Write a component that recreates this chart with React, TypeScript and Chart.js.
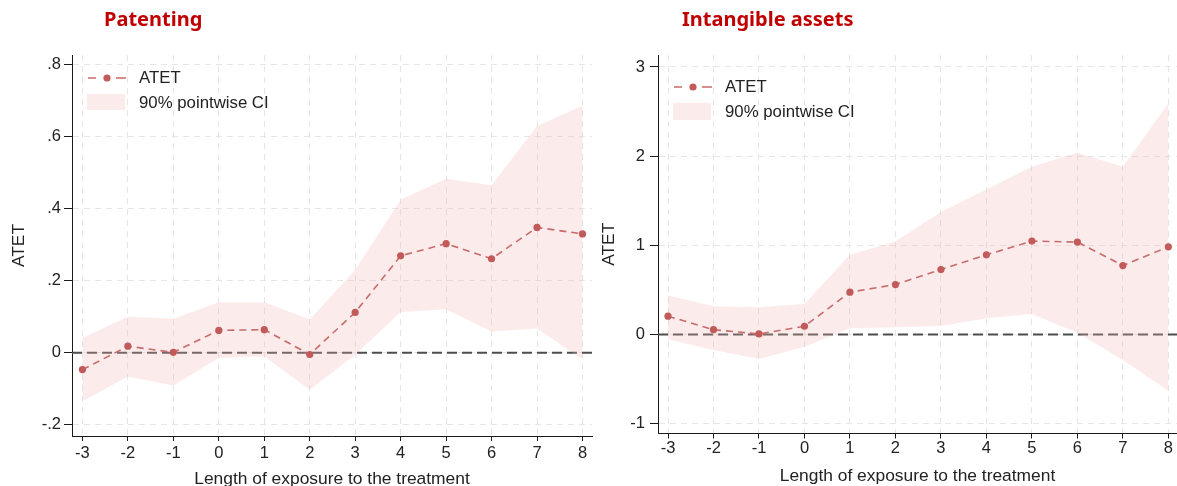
import React, { useEffect, useRef } from 'react';
import { Chart, registerables } from 'chart.js';

Chart.register(...registerables);

// ---------- data ----------
const exposure = [-3, -2, -1, 0, 1, 2, 3, 4, 5, 6, 7, 8];
const exposureLabels = ['-3', '-2', '-1', '0', '1', '2', '3', '4', '5', '6', '7', '8'];

const patentingATET = [-0.047, 0.018, 0.001, 0.062, 0.064, -0.005, 0.112, 0.269, 0.303, 0.261, 0.348, 0.330];
const patentingUpper = [0.041, 0.100, 0.094, 0.140, 0.140, 0.092, 0.230, 0.425, 0.483, 0.465, 0.630, 0.686];
const patentingLower = [-0.135, -0.066, -0.091, -0.015, -0.010, -0.103, -0.006, 0.113, 0.121, 0.059, 0.067, -0.019];
const patentingYTicks = [-0.2, 0, 0.2, 0.4, 0.6, 0.8];
const patentingYLabels = ['-.2', '0', '.2', '.4', '.6', '.8'];

const intangibleATET = [0.206, 0.055, 0.007, 0.093, 0.475, 0.561, 0.729, 0.894, 1.048, 1.037, 0.774, 0.984];
const intangibleUpper = [0.437, 0.317, 0.306, 0.344, 0.894, 1.044, 1.374, 1.625, 1.880, 2.037, 1.880, 2.590];
const intangibleLower = [-0.053, -0.173, -0.274, -0.136, 0.071, 0.082, 0.097, 0.183, 0.231, 0.021, -0.285, -0.630];
const intangibleYTicks = [-1, 0, 1, 2, 3];
const intangibleYLabels = ['-1', '0', '1', '2', '3'];

const panelTitles = ['Patenting', 'Intangible assets'];
const seriesLabel = 'ATET';
const bandLabel = '90% pointwise CI';
const xAxisTitle = 'Length of exposure to the treatment';
const yAxisTitle = 'ATET';

// ---------- styles ----------
const FONT = "'Liberation Sans', Arial, Helvetica, sans-serif";
const BAND = 'rgba(239, 179, 179, 0.26)';
const LINE = '#c86b6b';
const DOT = '#c35a5a';
const GRID = '#e6e6e6';
const AXIS = '#1a1a1a';
const TEXT = '#222222';
const TITLE_RED = '#c00000';

const panels = [
  {
    title: panelTitles[0], atet: patentingATET, upper: patentingUpper, lower: patentingLower,
    yTicks: patentingYTicks, yLabels: patentingYLabels,
    left: 0, width: 596, titleLeft: 104,
    yMin: -0.2314, yMax: 0.827, xMin: -3.229, xMax: 8.209,
    yAxisW: 72, xAxisH: 50, padRight: 4, yTitlePad: 8.8, xTickPad: 3, xTitlePad: -2, yTickPad: 3,
    legend: { x: 16, row1: 23, boxTop: 39, boxH: 16 },
  },
  {
    title: panelTitles[1], atet: intangibleATET, upper: intangibleUpper, lower: intangibleLower,
    yTicks: intangibleYTicks, yLabels: intangibleYLabels,
    left: 596, width: 581, titleLeft: 682,
    yMin: -1.109, yMax: 3.134, xMin: -3.22, xMax: 8.19,
    yAxisW: 62, xAxisH: 52.5, padRight: 0, yTitlePad: 2.8, xTickPad: 0.5, xTitlePad: 1.5, yTickPad: 5,
    legend: { x: 16, row1: 32, boxTop: 48, boxH: 17 },
  },
];

const zeroLinePlugin = {
  id: 'zeroLine',
  beforeDatasetsDraw(chart: any) {
    const { ctx, chartArea, scales } = chart;
    const y = scales.y.getPixelForValue(0);
    ctx.save();
    ctx.strokeStyle = '#4d4d4d';
    ctx.lineWidth = 2;
    ctx.setLineDash([10, 5]);
    ctx.beginPath();
    ctx.moveTo(chartArea.left, y);
    ctx.lineTo(chartArea.right, y);
    ctx.stroke();
    ctx.restore();
  },
};

const insideLegendPlugin = {
  id: 'insideLegend',
  afterDraw(chart: any, _args: any, opts: any) {
    const { ctx, chartArea } = chart;
    const L = chartArea.left + opts.x;
    const T = chartArea.top;
    const y1 = T + opts.row1;
    ctx.save();
    ctx.strokeStyle = LINE;
    ctx.lineWidth = 1.6;
    ctx.setLineDash([]);
    ctx.beginPath();
    ctx.moveTo(L, y1); ctx.lineTo(L + 8, y1);
    ctx.moveTo(L + 28, y1); ctx.lineTo(L + 38, y1);
    ctx.stroke();
    ctx.fillStyle = DOT;
    ctx.beginPath();
    ctx.arc(L + 19, y1, 3.6, 0, Math.PI * 2);
    ctx.fill();
    ctx.fillStyle = BAND;
    ctx.fillRect(L - 1, T + opts.boxTop, 38, opts.boxH);
    ctx.fillStyle = TEXT;
    ctx.font = `16.8px ${FONT}`;
    ctx.textBaseline = 'middle';
    ctx.textAlign = 'left';
    ctx.fillText(seriesLabel, L + 51, y1);
    ctx.fillText(bandLabel, L + 51, T + opts.boxTop + opts.boxH / 2 + 1);
    ctx.restore();
  },
};

function buildConfig(p: any): any {
  const pts = (arr: number[]) => exposure.map((x, i) => ({ x, y: arr[i] }));
  return {
    type: 'line',
    data: {
      datasets: [
        { label: 'CI lower', data: pts(p.lower), borderWidth: 0, borderColor: 'rgba(0,0,0,0)', pointRadius: 0, fill: false, order: 2 },
        { label: bandLabel, data: pts(p.upper), borderWidth: 0, borderColor: 'rgba(0,0,0,0)', pointRadius: 0, fill: '-1', backgroundColor: BAND, order: 1 },
        {
          label: seriesLabel, data: pts(p.atet), borderColor: LINE, borderWidth: 1.6, borderDash: [7, 5],
          pointRadius: 3.6, pointHoverRadius: 3.6, pointBackgroundColor: DOT, pointBorderColor: DOT, pointBorderWidth: 0,
          fill: false, tension: 0, order: 0,
        },
      ],
    },
    options: {
      animation: false,
      responsive: false,
      maintainAspectRatio: false,
      events: [],
      layout: { autoPadding: false, padding: { top: 55, right: p.padRight, left: 0, bottom: 0 } },
      plugins: {
        legend: { display: false },
        tooltip: { enabled: false },
        insideLegend: p.legend,
      },
      scales: {
        x: {
          type: 'linear',
          min: p.xMin,
          max: p.xMax,
          afterBuildTicks: (s: any) => { s.ticks = exposure.map((v) => ({ value: v })); },
          afterFit: (s: any) => { s.height = p.xAxisH; s.paddingLeft = 0; s.paddingRight = 0; },
          ticks: {
            autoSkip: false, maxRotation: 0, padding: p.xTickPad, color: TEXT,
            font: { family: FONT, size: 16.5 },
            callback: (_v: any, i: number) => exposureLabels[i],
          },
          grid: { color: GRID, lineWidth: 1, tickColor: AXIS, tickLength: 5, tickWidth: 1, tickBorderDash: [] },
          border: { display: true, color: AXIS, width: 1, dash: [6, 5] },
          title: {
            display: true, text: xAxisTitle, color: TEXT,
            font: { family: FONT, size: 17.4, lineHeight: 1 },
            padding: { top: 0, bottom: p.xTitlePad },
          },
        },
        y: {
          type: 'linear',
          min: p.yMin,
          max: p.yMax,
          afterBuildTicks: (s: any) => { s.ticks = p.yTicks.map((v: number) => ({ value: v })); },
          afterFit: (s: any) => { s.width = p.yAxisW; },
          ticks: {
            autoSkip: false, padding: p.yTickPad, color: TEXT,
            font: { family: FONT, size: 16.5 },
            callback: (_v: any, i: number) => p.yLabels[i],
          },
          grid: { color: GRID, lineWidth: 1, tickColor: AXIS, tickLength: 8, tickWidth: 1, tickBorderDash: [] },
          border: { display: true, color: AXIS, width: 1, dash: [6, 5] },
          title: {
            display: true, text: yAxisTitle, color: TEXT,
            font: { family: FONT, size: 17.4, lineHeight: 1.2 },
            padding: { top: p.yTitlePad, bottom: 0 },
          },
        },
      },
    },
    plugins: [zeroLinePlugin, insideLegendPlugin],
  };
}

function PanelChart({ p }: { p: any }) {
  const ref = useRef<HTMLCanvasElement>(null);
  useEffect(() => {
    const chart = new Chart(ref.current as HTMLCanvasElement, buildConfig(p));
    return () => chart.destroy();
  }, [p]);
  return (
    <canvas
      ref={ref}
      width={p.width}
      height={486}
      style={{ position: 'absolute', left: p.left, top: 0, width: p.width, height: 486 }}
    />
  );
}

export default function App() {
  return (
    <div style={{ position: 'absolute', left: 0, top: 0, width: 1177, height: 486, background: '#ffffff', overflow: 'hidden' }}>
      {panels.map((p, i) => (
        <React.Fragment key={i}>
          <PanelChart p={p} />
          <div
            style={{
              position: 'absolute', left: p.titleLeft, top: 9, lineHeight: '20px',
              fontFamily: "'Noto Sans', 'DejaVu Sans', sans-serif", fontWeight: 700, fontSize: 20,
              color: TITLE_RED, whiteSpace: 'nowrap',
            }}
          >
            {p.title}
          </div>
        </React.Fragment>
      ))}
    </div>
  );
}
